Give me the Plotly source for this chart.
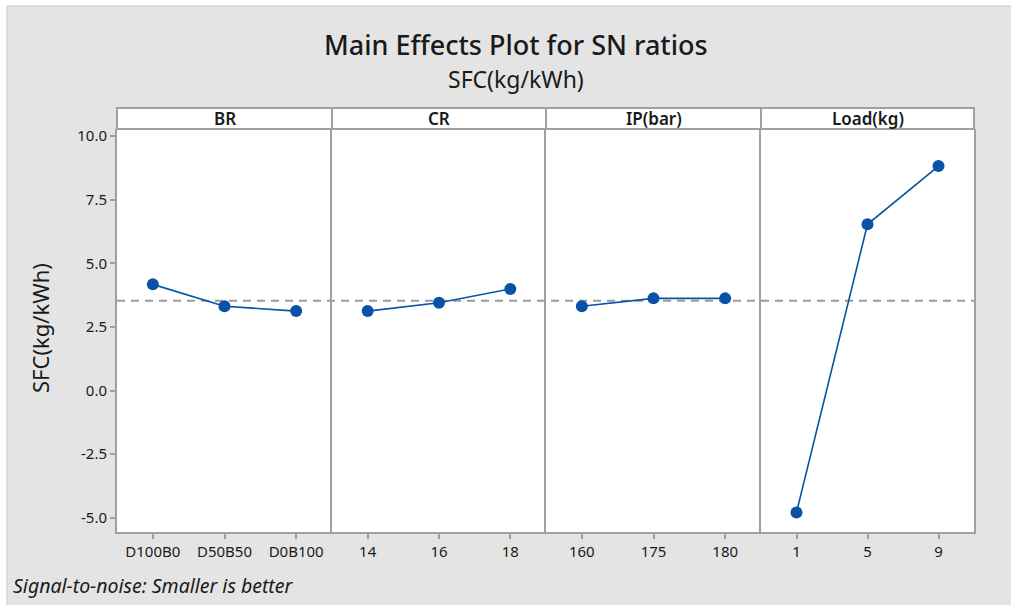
import numpy as np
import plotly.graph_objects as go

# ---- data ----
factors = ["BR", "CR", "IP(bar)", "Load(kg)"]
levels_br = ["D100B0", "D50B50", "D0B100"]
levels_cr = ["14", "16", "18"]
levels_ip = ["160", "175", "180"]
levels_load = ["1", "5", "9"]
sn_br = [4.17, 3.31, 3.12]
sn_cr = [3.12, 3.45, 3.99]
sn_ip = [3.31, 3.62, 3.62]
sn_load = [-4.79, 6.53, 8.82]
y_ticks = [-5.0, -2.5, 0.0, 2.5, 5.0, 7.5, 10.0]

levels = [levels_br, levels_cr, levels_ip, levels_load]
values = [sn_br, sn_cr, sn_ip, sn_load]
grand_mean = float(np.mean(np.concatenate([np.array(v) for v in values])))

W, H = 1011, 605
def px(x):
    return x / W
def py(y):
    return 1 - y / H

panel_edges = [117, 332, 546, 761, 974]
plot_top, plot_bottom = 129, 532
strip_top = 108

FONT = "Noto Sans"
BLUE = "#0a52a5"
GRAY = "#a0a0a0"
TXT = "#1a1a1a"

fig = go.Figure()
layout = dict(
    width=W, height=H,
    paper_bgcolor="#e4e4e4", plot_bgcolor="white",
    margin=dict(l=0, r=0, t=0, b=0),
    showlegend=False,
    font=dict(family=FONT, color=TXT),
)

yrange = [-5.56, 10.275]
for i in range(4):
    sfx = "" if i == 0 else str(i + 1)
    fig.add_trace(go.Scatter(
        x=levels[i], y=values[i], mode="lines+markers",
        line=dict(color=BLUE, width=1.6),
        marker=dict(color=BLUE, size=12),
        xaxis="x" + sfx, yaxis="y" + sfx, hoverinfo="skip",
    ))
    layout["xaxis" + sfx] = dict(
        domain=[px(panel_edges[i]), px(panel_edges[i + 1])],
        anchor="y" + sfx, type="category", range=[-0.5, 2.5],
        showline=True, mirror=False, linecolor=GRAY, linewidth=2,
        ticks="outside", ticklen=5, tickcolor=GRAY, tickwidth=1.5,
        showgrid=False, zeroline=False,
        tickfont=dict(size=15, color=TXT, family=FONT),
        automargin=False,
    )
    layout["yaxis" + sfx] = dict(
        domain=[py(plot_bottom), py(plot_top)],
        anchor="x" + sfx, range=yrange,
        showline=True, mirror=(i == 3), linecolor=GRAY, linewidth=2,
        showgrid=False, zeroline=False,
        tickvals=y_ticks if i == 0 else [],
        ticktext=[f"{v:.1f}" for v in y_ticks] if i == 0 else [],
        ticks="outside" if i == 0 else "", ticklen=5, tickcolor=GRAY, tickwidth=1.5,
        showticklabels=(i == 0),
        tickfont=dict(size=15, color=TXT, family=FONT),
        automargin=False,
    )

shapes = []
annotations = []
# white outer border strips
shapes.append(dict(type="rect", xref="paper", yref="paper", x0=0, x1=1, y0=py(6), y1=1,
                   fillcolor="white", line=dict(width=0), layer="below"))
shapes.append(dict(type="rect", xref="paper", yref="paper", x0=0, x1=px(7), y0=0, y1=1,
                   fillcolor="white", line=dict(width=0), layer="below"))
shapes.append(dict(type="line", xref="paper", yref="paper", x0=px(7), x1=1, y0=py(6), y1=py(6),
                   line=dict(color="#c8c8c8", width=1)))
shapes.append(dict(type="line", xref="paper", yref="paper", x0=px(7), x1=px(7), y0=0, y1=py(6),
                   line=dict(color="#c8c8c8", width=1)))

# header strips
for i, name in enumerate(factors):
    shapes.append(dict(type="rect", xref="paper", yref="paper",
                       x0=px(panel_edges[i]), x1=px(panel_edges[i + 1]),
                       y0=py(plot_top), y1=py(strip_top),
                       fillcolor="white", line=dict(color=GRAY, width=2)))
    annotations.append(dict(text=name, xref="paper", yref="paper",
                            x=(px(panel_edges[i]) + px(panel_edges[i + 1])) / 2,
                            y=(py(plot_top) + py(strip_top)) / 2,
                            showarrow=False, xanchor="center", yanchor="middle",
                            font=dict(size=17, color=TXT, family=FONT, weight=600)))

# grand mean reference line across all panels
shapes.append(dict(type="line", xref="paper", yref="y",
                   x0=px(panel_edges[0]), x1=px(panel_edges[-1]),
                   y0=grand_mean, y1=grand_mean,
                   line=dict(color="#9a9a9a", width=2, dash="8px,6px"), layer="below"))

annotations += [
    dict(text="Main Effects Plot for SN ratios", xref="paper", yref="paper",
         x=px(516), y=py(45), showarrow=False, xanchor="center", yanchor="middle",
         font=dict(size=27, color=TXT, family=FONT, weight=500)),
    dict(text="SFC(kg/kWh)", xref="paper", yref="paper",
         x=px(516), y=py(79), showarrow=False, xanchor="center", yanchor="middle",
         font=dict(size=23, color=TXT, family=FONT)),
    dict(text="SFC(kg/kWh)", xref="paper", yref="paper",
         x=px(40), y=py(328), showarrow=False, xanchor="center", yanchor="middle",
         textangle=-90, font=dict(size=22, color=TXT, family=FONT)),
    dict(text="<i>Signal-to-noise: Smaller is better</i>", xref="paper", yref="paper",
         x=px(11), y=py(585), showarrow=False, xanchor="left", yanchor="middle",
         font=dict(size=19.5, color=TXT, family=FONT)),
]

layout["shapes"] = shapes
layout["annotations"] = annotations
fig.update_layout(**layout)
fig.write_html("out.html", config={"displayModeBar": False},
               post_script="document.body.style.margin='0';document.body.style.overflow='hidden';")
